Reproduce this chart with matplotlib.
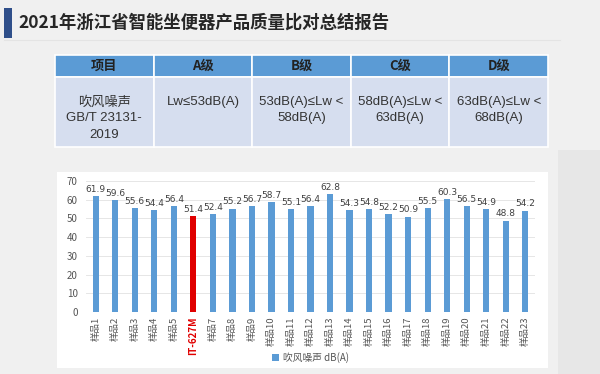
import matplotlib
matplotlib.use("Agg")
import matplotlib.pyplot as plt
from matplotlib.patches import Rectangle

plt.rcParams['font.family'] = ['Noto Sans CJK SC', 'DejaVu Sans']

title = "2021年浙江省智能坐便器产品质量比对总结报告"

table_header = ["项目", "A级", "B级", "C级", "D级"]
table_body = ["吹风噪声\nGB/T 23131-\n2019", "Lw≤53dB(A)", "53dB(A)≤Lw <\n58dB(A)",
              "58dB(A)≤Lw <\n63dB(A)", "63dB(A)≤Lw <\n68dB(A)"]

samples = ["样品1", "样品2", "样品3", "样品4", "样品5", "IT-627M", "样品7", "样品8",
           "样品9", "样品10", "样品11", "样品12", "样品13", "样品14", "样品15", "样品16",
           "样品17", "样品18", "样品19", "样品20", "样品21", "样品22", "样品23"]
noise = [61.9, 59.6, 55.6, 54.4, 56.4, 51.4, 52.4, 55.2, 56.7, 58.7, 55.1, 56.4,
         62.8, 54.3, 54.8, 52.2, 50.9, 55.5, 60.3, 56.5, 54.9, 48.8, 54.2]
highlight = "IT-627M"
legend_label = "吹风噪声 dB(A)"

W, H = 600, 374
fig = plt.figure(figsize=(6, 3.74), dpi=100)
fig.patch.set_facecolor('#f0f0f0')

# background / slide layer in pixel coords
bg = fig.add_axes([0, 0, 1, 1])
bg.set_xlim(0, W)
bg.set_ylim(H, 0)
bg.axis('off')
bg.add_patch(Rectangle((558, 150), 42, 224, color='#e7e7e7', lw=0))
bg.add_patch(Rectangle((4, 8), 8, 30, color='#2f4f8a', lw=0))
bg.text(18, 23, title, fontsize=12.5, fontweight='bold', color='#262626', va='center')
bg.plot([4, 560], [40, 40], color='#e4e4e4', lw=0.8)

# table
x0, x1 = 55, 548
colw = (x1 - x0) / len(table_header)
for i, (h, b) in enumerate(zip(table_header, table_body)):
    cx = x0 + i * colw
    bg.add_patch(Rectangle((cx, 55), colw, 22, facecolor='#5b9bd5', edgecolor='white', lw=1.2))
    bg.add_patch(Rectangle((cx, 77), colw, 70, facecolor='#d6deef', edgecolor='white', lw=1.2))
    bg.text(cx + colw / 2, 66, h, fontsize=9.5, fontweight='bold', color='#222222',
            ha='center', va='center')
    bg.text(cx + colw / 2, 96, b, fontsize=9.5, color='#333333', ha='center', va='top',
            multialignment='center', linespacing=1.45, family=['Liberation Sans', 'Noto Sans CJK SC'])

# chart box
bg.add_patch(Rectangle((57, 172), 491, 196, color='white', lw=0))

ax = fig.add_axes([86 / W, 1 - 312 / H, (535 - 86) / W, (312 - 181) / H])
ax.set_facecolor('white')
colors = ['#e00000' if s == highlight else '#5b9bd5' for s in samples]
bars = ax.bar(range(len(samples)), noise, width=0.32, color=colors, label=legend_label)
ax.set_xlim(-0.5, len(samples) - 0.5)
ax.set_ylim(0, 70)
ax.set_yticks(range(0, 71, 10))
ax.yaxis.grid(True, color='#e6e6e6', lw=0.7)
ax.set_axisbelow(True)
for sp in ax.spines.values():
    sp.set_visible(False)
ax.tick_params(axis='both', length=0, labelsize=7, colors='#555555')
ax.tick_params(axis='y', pad=6)
ax.set_xticks(range(len(samples)))
ax.set_xticklabels(samples, rotation=90, fontsize=6.8, color='#555555')
for lbl in ax.get_xticklabels():
    if lbl.get_text() == highlight:
        lbl.set_color('#e00000')
        lbl.set_fontweight('bold')
        lbl.set_fontsize(7)
for i, v in enumerate(noise):
    ax.text(i, v + 1.2, f"{v}", ha='center', va='bottom', fontsize=6.5, color='#404040',
            family='DejaVu Sans')

leg = ax.legend(loc='upper center', bbox_to_anchor=(0.5, -0.24), frameon=False,
                fontsize=7, handlelength=0.7, handleheight=0.7, handletextpad=0.4)
for t in leg.get_texts():
    t.set_color('#555555')

fig.savefig("out.png", dpi=100, facecolor=fig.get_facecolor())
